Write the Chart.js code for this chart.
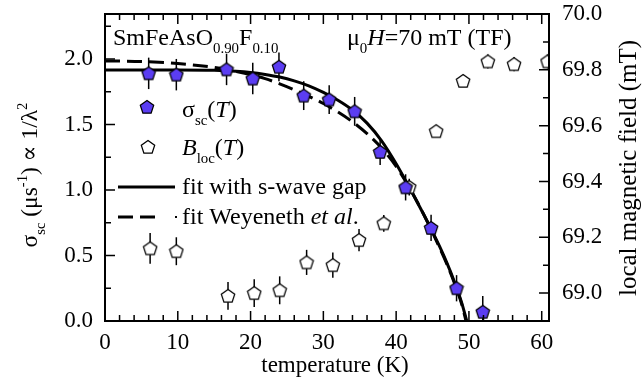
<!DOCTYPE html>
<html>
<head>
<meta charset="utf-8">
<script src="https://cdn.jsdelivr.net/npm/chart.js@4.4.0/dist/chart.umd.min.js"></script>
<style>
  html, body { margin: 0; padding: 0; background: #fff; }
  #wrap { width: 642px; height: 385px; }
</style>
</head>
<body>
<div id="wrap"><canvas id="chart" width="642" height="385"></canvas></div>
<script>
// superfluid density from muSR, SmFeAsO0.90F0.10
var tempSigma = [6.0, 9.8, 16.7, 20.3, 23.9, 27.3, 30.8, 34.3, 37.8, 41.3, 44.8, 48.3, 51.9];
var sigmaSc   = [1.89, 1.88, 1.92, 1.85, 1.94, 1.72, 1.69, 1.60, 1.29, 1.02, 0.71, 0.25, 0.07];
var sigmaErr  = [0.12, 0.12, 0.12, 0.12, 0.11, 0.11, 0.11, 0.11, 0.10, 0.10, 0.10, 0.10, 0.12];

// local field in the sample (right axis)
var tempBloc = [6.2, 9.8, 16.9, 20.5, 24.0, 27.7, 31.3, 34.9, 38.3, 41.8, 45.5, 49.2, 52.6, 56.2, 60.8];
var bLoc     = [69.16, 69.15, 68.99, 69.00, 69.01, 69.11, 69.10, 69.19, 69.25, 69.38, 69.58, 69.76, 69.83, 69.82, 69.83];
var bLocErr  = [0.055, 0.05, 0.05, 0.05, 0.05, 0.045, 0.045, 0.04, 0.03, 0.03, 0.02, 0.02, 0.025, 0.025, 0.025];

// fit curves
var fitT     = [0, 10, 15, 18, 20, 22, 24, 26, 28, 30, 32, 34, 36, 38, 40, 42, 44, 45, 46, 47, 48, 49, 49.7];
var fitSwave = [1.916, 1.916, 1.913, 1.906, 1.897, 1.882, 1.862, 1.833, 1.795, 1.745, 1.685, 1.61, 1.51, 1.375, 1.20, 1.00, 0.79, 0.68, 0.565, 0.44, 0.30, 0.14, 0];
var weyT     = [0, 5, 10, 15, 18, 20, 22, 24, 26, 28, 30, 32, 34, 36, 38, 40, 42, 44, 46, 47, 48, 49, 49.6];
var fitWey   = [1.985, 1.98, 1.965, 1.935, 1.905, 1.88, 1.85, 1.81, 1.765, 1.715, 1.66, 1.595, 1.52, 1.43, 1.32, 1.18, 1.00, 0.79, 0.555, 0.43, 0.29, 0.13, 0];

var xTicks     = [0, 10, 20, 30, 40, 50, 60];
var sigmaTicks = [0, 0.5, 1.0, 1.5, 2.0];
var fieldTicks = [69.0, 69.2, 69.4, 69.6, 69.8, 70.0];

var SERIF = "'Liberation Serif', 'DejaVu Serif', serif";
var TXT = 24;

function pentagon(fill) {
  var c = document.createElement('canvas');
  c.width = 16; c.height = 16;
  var g = c.getContext('2d');
  var r = 7, cx = 8, cy = 8.5;
  g.beginPath();
  for (var i = 0; i < 5; i++) {
    var a = -Math.PI / 2 + i * 2 * Math.PI / 5;
    var px = cx + r * Math.cos(a), py = cy + r * Math.sin(a);
    if (i === 0) g.moveTo(px, py); else g.lineTo(px, py);
  }
  g.closePath();
  g.fillStyle = fill;
  g.fill();
  g.lineWidth = 1.3;
  g.strokeStyle = '#000';
  g.stroke();
  return c;
}
var penFilled = pentagon('#5b3df2');
var penOpen = pentagon('#ffffff');

function pts(xs, ys) {
  return xs.map(function (x, i) { return { x: x, y: ys[i] }; });
}

// text with sub/superscripts, drawn left to right from (x, y) baseline
function richWidth(ctx, segs, size) {
  var w = 0;
  segs.forEach(function (s) {
    var fs = (s.sub || s.sup) ? size * 0.62 : size;
    ctx.font = (s.it ? 'italic ' : '') + fs + 'px ' + SERIF;
    w += ctx.measureText(s.t).width;
  });
  return w;
}
function drawRich(ctx, x, y, segs, size, align) {
  if (align === 'center') x -= richWidth(ctx, segs, size) / 2;
  segs.forEach(function (s) {
    var fs = (s.sub || s.sup) ? size * 0.62 : size;
    var dy = s.sub ? size * 0.32 : (s.sup ? -size * 0.42 : 0);
    ctx.font = (s.it ? 'italic ' : '') + fs + 'px ' + SERIF;
    ctx.textAlign = 'left';
    ctx.textBaseline = 'alphabetic';
    ctx.fillText(s.t, x, y + dy);
    x += ctx.measureText(s.t).width;
  });
}

function setTicks(vals) {
  return function (scale) {
    scale.ticks = vals.map(function (v) { return { value: v }; });
  };
}

// fixed axis boxes so the plot frame sits at 105..549 x 14..321
function fixBox(w, h) {
  return function (s) {
    if (w) s.width = w;
    if (h) s.height = h;
    s.paddingTop = 0; s.paddingBottom = 0;
    s.paddingLeft = 0; s.paddingRight = 0;
  };
}

var errorBars = {
  id: 'errorBars',
  beforeDatasetsDraw: function (chart) {
    var ctx = chart.ctx, a = chart.chartArea;
    ctx.save();
    ctx.beginPath();
    ctx.rect(a.left, a.top, a.right - a.left, a.bottom - a.top);
    ctx.clip();
    ctx.strokeStyle = '#000';
    ctx.lineWidth = 1.5;
    chart.data.datasets.forEach(function (ds) {
      if (!ds.errors) return;
      var xs = chart.scales.x, ys = chart.scales[ds.yAxisID];
      ds.data.forEach(function (p, i) {
        var px = xs.getPixelForValue(p.x);
        ctx.beginPath();
        ctx.moveTo(px, ys.getPixelForValue(p.y - ds.errors[i]));
        ctx.lineTo(px, ys.getPixelForValue(p.y + ds.errors[i]));
        ctx.stroke();
      });
    });
    ctx.restore();
  }
};

var frameAndText = {
  id: 'frameAndText',
  afterDraw: function (chart) {
    var ctx = chart.ctx, a = chart.chartArea;
    var xs = chart.scales.x, yl = chart.scales.y, yr = chart.scales.y2;
    ctx.save();
    ctx.strokeStyle = '#000';
    ctx.fillStyle = '#000';

    // inward ticks on all four sides
    ctx.lineWidth = 1.5;
    ctx.beginPath();
    for (var t = 0; t <= 61; t += 2) {
      var px = xs.getPixelForValue(t);
      var len = (t % 10 === 0) ? 10 : 6;
      ctx.moveTo(px, a.bottom); ctx.lineTo(px, a.bottom - len);
      ctx.moveTo(px, a.top); ctx.lineTo(px, a.top + len);
    }
    for (var s = 0; s <= 2.34; s += 0.25) {
      var py = yl.getPixelForValue(s);
      var l2 = (Math.round(s * 4) % 2 === 0) ? 10 : 6;
      ctx.moveTo(a.left, py); ctx.lineTo(a.left + l2, py);
    }
    for (var k = 0; k <= 11; k++) {
      var b = 68.9 + k * 0.1;
      var py2 = yr.getPixelForValue(b);
      var l3 = (k % 2 === 1) ? 10 : 6;
      ctx.moveTo(a.right, py2); ctx.lineTo(a.right - l3, py2);
    }
    ctx.stroke();

    ctx.lineWidth = 2;
    ctx.strokeRect(a.left, a.top, a.right - a.left, a.bottom - a.top);

    // axis titles
    ctx.font = '23px ' + SERIF;
    ctx.textAlign = 'center';
    ctx.textBaseline = 'alphabetic';
    ctx.fillText('temperature (K)', (a.left + a.right) / 2 + 8, 372);

    ctx.save();
    ctx.translate(37, 175);
    ctx.rotate(-Math.PI / 2);
    drawRich(ctx, 0, 0, [
      { t: 'σ' }, { t: 'sc', sub: true }, { t: ' (μs' }, { t: '-1', sup: true },
      { t: ') ∝ 1/λ' }, { t: '2', sup: true }
    ], 23.5, 'center');
    ctx.restore();

    ctx.save();
    ctx.translate(636, 168);
    ctx.rotate(-Math.PI / 2);
    ctx.font = '25px ' + SERIF;
    ctx.textAlign = 'center';
    ctx.fillText('local magnetic field (mT)', 0, 0);
    ctx.restore();

    // sample and field labels
    drawRich(ctx, 113, 45, [
      { t: 'SmFeAsO' }, { t: '0.90', sub: true }, { t: 'F' }, { t: '0.10', sub: true }
    ], TXT);
    drawRich(ctx, 347, 45, [
      { t: 'μ' }, { t: '0', sub: true }, { t: 'H', it: true }, { t: '=70 mT (TF)' }
    ], TXT);

    // legend
    ctx.drawImage(penFilled, 147 - 8, 107 - 8);
    ctx.drawImage(penOpen, 148 - 8, 147 - 8);
    drawRich(ctx, 182, 117, [{ t: 'σ' }, { t: 'sc', sub: true }, { t: '(' }, { t: 'T', it: true }, { t: ')' }], TXT);
    drawRich(ctx, 182, 155, [{ t: 'B', it: true }, { t: 'loc', sub: true }, { t: '(' }, { t: 'T', it: true }, { t: ')' }], TXT);

    ctx.lineWidth = 3;
    ctx.beginPath();
    ctx.moveTo(118, 187); ctx.lineTo(175, 187);
    ctx.stroke();
    ctx.setLineDash([15, 7]);
    ctx.beginPath();
    ctx.moveTo(118, 217); ctx.lineTo(162, 217);
    ctx.stroke();
    ctx.setLineDash([]);
    ctx.fillRect(175, 216, 2, 2);
    drawRich(ctx, 182, 194, [{ t: 'fit with s-wave gap' }], TXT);
    drawRich(ctx, 182, 224, [{ t: 'fit Weyeneth ' }, { t: 'et al', it: true }, { t: '.' }], TXT);

    ctx.restore();
  }
};

var tickFont = { family: SERIF, size: 23 };

new Chart(document.getElementById('chart'), {
  type: 'scatter',
  data: {
    datasets: [
      {
        label: 'sigma_sc(T)',
        data: pts(tempSigma, sigmaSc),
        errors: sigmaErr,
        yAxisID: 'y',
        pointStyle: penFilled,
        order: 1,
        clip: 0
      },
      {
        label: 'B_loc(T)',
        data: pts(tempBloc, bLoc),
        errors: bLocErr,
        yAxisID: 'y2',
        pointStyle: penOpen,
        order: 2,
        clip: 0
      },
      {
        type: 'line',
        label: 'fit with s-wave gap',
        data: pts(fitT, fitSwave),
        yAxisID: 'y',
        borderColor: '#000',
        borderWidth: 3,
        pointRadius: 0,
        cubicInterpolationMode: 'monotone',
        order: 3
      },
      {
        type: 'line',
        label: 'fit Weyeneth et al.',
        data: pts(weyT, fitWey),
        yAxisID: 'y',
        borderColor: '#000',
        borderWidth: 3,
        borderDash: [15, 7],
        pointRadius: 0,
        cubicInterpolationMode: 'monotone',
        order: 4
      }
    ]
  },
  options: {
    responsive: false,
    animation: false,
    layout: { padding: { top: 14, left: 0, right: 0, bottom: 0 } },
    plugins: { legend: { display: false }, tooltip: { enabled: false } },
    scales: {
      x: {
        type: 'linear', min: 0, max: 61,
        afterBuildTicks: setTicks(xTicks),
        afterFit: fixBox(0, 64),
        grid: { display: false, drawTicks: false },
        border: { display: false },
        ticks: { font: tickFont, color: '#000', padding: 8, maxRotation: 0 }
      },
      y: {
        type: 'linear', position: 'left', min: 0, max: 2.343,
        afterBuildTicks: setTicks(sigmaTicks),
        afterFit: fixBox(105, 0),
        grid: { display: false, drawTicks: false },
        border: { display: false },
        ticks: { font: tickFont, color: '#000', padding: 12,
          callback: function (v) { return v.toFixed(1); } }
      },
      y2: {
        type: 'linear', position: 'right', min: 68.9, max: 70.0,
        afterBuildTicks: setTicks(fieldTicks),
        afterFit: fixBox(93, 0),
        grid: { display: false, drawTicks: false },
        border: { display: false },
        ticks: { font: tickFont, color: '#000', padding: 13,
          callback: function (v) { return v.toFixed(1); } }
      }
    }
  },
  plugins: [errorBars, frameAndText]
});
</script>
</body>
</html>
